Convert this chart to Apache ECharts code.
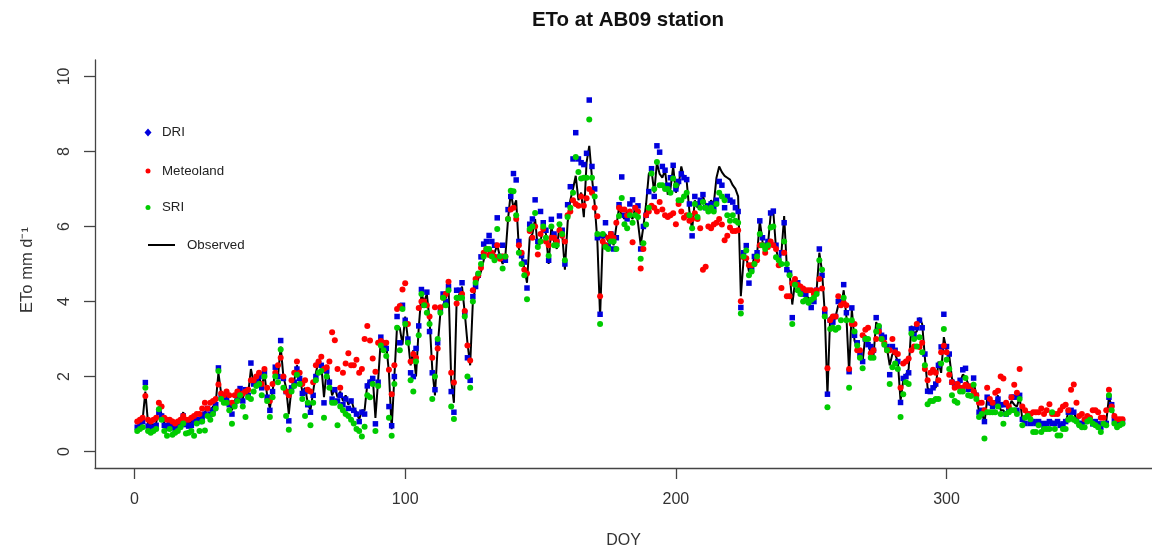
<!DOCTYPE html>
<html>
<head>
<meta charset="utf-8">
<title>ETo at AB09 station</title>
<script src="https://cdn.jsdelivr.net/npm/echarts@6/dist/echarts.min.js"></script>
<style>
html,body{margin:0;padding:0;background:#fff;overflow:hidden;}
#chart{width:1152px;height:554px;}
</style>
</head>
<body>
<div id="chart"></div>
<script>
// Day of year (x categories)
const doy = Array.from({length: 365}, (_, i) => i + 1);
const xTicks = [0, 100, 200, 300];
const yTicks = [0, 2, 4, 6, 8, 10];

// Observed ETo (black line)
const observed = [
0.75,0.8,0.85,1.6,0.75,0.7,0.72,0.75,1.2,1.0,
0.75,0.7,0.8,0.72,0.68,0.75,0.85,1.05,0.8,0.75,
0.8,0.85,0.9,0.85,1.0,1.05,1.2,1.1,1.2,1.3,
2.1,1.55,1.45,1.5,1.3,1.1,1.35,1.5,1.65,1.4,
1.7,1.55,2.2,1.85,1.9,2.0,1.75,2.05,1.5,1.15,
1.6,2.2,2.0,2.8,2.0,1.7,1.0,1.7,1.9,2.3,
2.0,1.6,1.7,1.3,1.1,1.6,2.1,2.4,2.3,1.45,
2.2,1.9,1.5,1.7,1.45,1.6,1.35,1.5,1.25,1.4,
1.15,1.05,0.85,1.1,1.1,1.8,1.9,2.0,0.9,1.9,
3.0,2.8,2.85,2.1,0.6,2.0,3.35,3.3,2.85,3.6,
3.0,2.3,2.7,2.0,3.3,4.2,4.0,4.2,3.5,2.2,
1.5,2.8,3.7,3.9,4.1,4.4,1.9,1.3,4.0,4.2,
4.4,3.7,2.9,2.3,4.0,4.4,4.6,4.8,5.1,5.4,
5.3,5.25,5.3,5.5,5.2,5.0,5.2,6.2,6.9,6.5,
6.7,5.4,5.2,4.9,4.5,5.7,5.8,6.2,5.4,5.6,
6.0,5.8,5.0,6.0,5.6,5.4,6.0,5.8,4.85,6.1,
6.7,7.0,7.35,6.7,6.9,6.25,7.7,8.15,7.3,6.6,
5.6,3.6,5.7,5.8,5.6,5.7,5.5,6.0,6.5,6.3,
6.2,6.4,6.3,6.2,6.5,6.1,5.5,6.0,6.6,7.4,
7.5,6.9,7.7,7.4,7.3,7.5,6.85,7.0,7.6,6.9,
7.1,7.6,7.3,7.2,6.4,5.9,6.7,6.5,6.6,6.8,
6.6,6.5,6.7,6.6,7.3,7.6,7.45,7.35,7.3,7.25,
7.1,7.0,6.8,4.14,5.1,5.2,4.8,4.9,5.2,5.25,
6.15,5.6,5.3,5.5,6.3,6.4,5.4,5.1,5.3,6.28,
4.9,4.8,3.92,4.5,4.4,4.3,4.2,4.15,4.1,4.0,
4.05,4.3,5.3,4.8,3.7,1.5,3.6,3.4,3.6,3.9,
3.85,4.3,3.6,2.1,3.8,2.95,2.8,2.6,2.4,3.1,
2.9,2.6,2.55,3.45,3.3,3.1,3.0,2.75,2.3,2.6,
2.6,2.4,1.35,1.9,2.05,2.2,3.35,3.15,3.2,3.57,
3.4,2.5,1.7,1.6,1.75,1.7,2.4,2.1,3.05,2.7,
2.55,1.95,1.8,1.75,1.85,2.05,2.0,1.8,1.7,1.85,
1.5,1.05,1.1,0.75,1.4,1.25,1.2,1.3,1.5,1.1,
1.1,1.0,1.15,1.35,1.25,1.2,1.45,0.85,0.9,1.0,
0.85,0.75,0.75,0.8,0.75,0.7,0.75,0.8,0.8,0.75,
0.8,0.7,0.75,0.78,1.05,1.1,1.05,0.85,0.75,0.78,
0.8,0.85,0.85,0.8,0.8,0.75,0.72,0.74,0.8,1.45,
1.2,0.9,0.8,0.8,0.78
];

// DRI estimates (blue squares)
const dri = [
0.65,0.7,0.8,1.84,0.68,0.62,0.65,0.7,1.05,0.95,
0.7,0.62,0.72,0.65,0.6,0.68,0.78,0.95,0.72,0.68,
0.7,0.78,0.85,0.8,0.9,1.0,1.15,1.0,1.1,1.25,
2.23,1.45,1.35,1.4,1.25,1.0,1.3,1.45,1.68,1.35,
1.65,1.5,2.36,1.8,1.9,2.0,1.7,2.1,1.45,1.1,
1.6,2.25,2.0,2.96,1.95,1.6,0.82,1.7,1.85,2.2,
1.95,1.55,1.6,1.25,1.05,1.5,2.0,2.35,2.3,1.3,
2.15,1.85,1.4,1.65,1.35,1.5,1.25,1.4,1.15,1.35,
1.1,1.0,0.8,1.05,1.0,1.75,1.85,1.95,0.74,1.85,
3.05,2.8,2.75,1.2,0.69,2.0,3.6,2.9,3.9,3.5,
3.0,2.1,2.0,2.75,3.35,4.32,3.9,4.25,3.2,2.1,
1.65,2.9,3.8,4.2,4.0,4.4,1.6,1.05,4.3,4.3,
4.5,3.7,2.5,1.9,4.13,4.4,4.7,5.19,5.53,5.6,
5.76,5.6,5.5,6.23,5.2,5.5,5.1,6.45,6.8,7.41,
7.24,5.6,5.22,5.05,4.36,6.06,6.2,6.71,5.6,6.4,
6.1,5.9,5.1,6.19,5.8,5.6,6.28,5.9,5.0,6.58,
7.06,7.8,8.5,7.8,7.7,7.65,7.95,9.37,7.6,7.0,
5.7,3.66,5.75,6.1,5.5,5.8,5.4,5.7,6.58,7.32,
6.3,6.2,6.6,6.71,6.5,6.55,5.4,6.0,6.3,6.93,
7.54,6.8,8.15,7.98,7.6,7.5,7.1,7.3,7.63,7.0,
7.2,7.4,7.3,7.25,6.6,5.75,6.8,6.6,6.7,6.85,
6.5,6.55,6.6,6.5,6.7,7.2,7.1,6.5,6.8,6.7,
6.65,6.5,6.4,3.84,5.3,5.49,4.49,4.9,5.2,5.3,
6.15,5.7,5.5,5.6,6.36,6.41,5.5,5.15,5.3,6.1,
4.85,4.76,3.57,4.5,4.5,4.3,4.2,4.2,4.0,3.84,
4.0,4.3,5.4,4.7,3.7,1.53,3.5,3.45,3.6,4.0,
4.0,4.45,3.7,2.13,3.83,3.1,2.9,2.6,2.4,3.0,
2.85,2.8,2.7,3.57,3.3,3.1,3.05,2.8,2.05,2.8,
2.7,2.4,1.31,1.95,2.0,2.1,3.27,3.1,3.3,3.5,
3.3,2.6,1.61,1.6,1.7,1.8,2.3,2.79,3.66,2.8,
2.6,1.85,1.8,1.75,1.9,2.18,2.22,1.66,1.7,1.96,
1.5,1.05,1.1,0.8,1.45,1.3,1.2,1.3,1.4,1.25,
1.25,1.0,1.1,1.45,1.45,1.1,1.5,0.86,0.75,1.0,
0.75,0.8,0.75,0.8,0.75,0.65,0.75,0.8,0.75,0.75,
0.8,0.7,0.74,0.8,1.05,1.1,1.05,0.85,0.75,0.75,
0.8,0.85,0.85,0.74,0.8,0.74,0.65,0.74,0.75,1.45,
1.25,0.85,0.8,0.8,0.8
];

// Meteoland estimates (red dots)
const meteoland = [
0.8,0.85,0.9,1.48,0.85,0.8,0.85,0.9,1.3,1.2,
0.9,0.85,0.85,0.8,0.75,0.8,0.85,0.95,0.85,0.85,
0.9,0.95,1.0,1.0,1.15,1.3,1.15,1.3,1.35,1.4,
1.79,1.55,1.5,1.6,1.5,1.3,1.5,1.6,1.5,1.55,
1.6,1.65,1.9,1.9,2.0,2.1,1.8,2.2,1.7,1.35,
1.8,2.1,2.3,2.5,2.0,1.6,1.5,1.9,2.1,2.4,
2.1,1.8,1.9,1.65,1.6,1.85,2.3,2.4,2.53,2.2,
2.25,2.4,3.18,2.97,2.2,1.7,2.1,2.35,2.62,2.3,
2.3,2.45,2.1,2.2,3.0,3.35,2.96,2.48,2.13,2.9,
2.95,2.9,2.9,2.18,1.53,2.3,3.8,3.88,4.32,4.49,
3.4,2.4,2.6,2.5,3.83,4.0,4.0,3.9,3.6,2.5,
3.85,2.75,3.85,4.1,4.2,4.53,2.1,1.84,3.95,4.1,
4.2,3.75,2.83,2.43,4.3,4.6,4.7,4.9,5.3,5.4,
5.24,5.3,5.2,5.5,5.14,5.2,5.2,6.2,6.45,6.5,
6.2,5.5,5.3,4.85,4.75,5.88,5.7,6.0,5.25,5.8,
5.93,5.6,5.5,5.7,5.7,5.6,5.9,5.75,5.6,6.3,
6.4,6.7,6.6,6.55,6.8,6.55,6.75,7.0,6.9,6.5,
6.27,4.14,5.6,5.5,5.7,5.8,5.7,6.1,6.5,6.45,
6.45,6.3,6.4,5.58,6.5,6.4,4.88,5.4,6.3,6.4,
6.55,6.5,6.4,6.65,6.45,6.3,6.25,6.3,6.35,6.06,
6.6,6.4,6.23,6.3,6.15,6.2,6.35,6.2,5.95,4.85,
4.93,6.0,5.95,6.05,6.1,6.2,6.05,5.63,5.75,5.97,
5.88,5.88,5.9,4.01,5.18,5.15,4.97,4.97,5.0,5.1,
5.5,5.5,5.3,5.45,5.6,5.5,5.4,4.97,4.36,5.3,
4.14,4.14,4.49,4.6,4.45,4.4,4.35,4.3,4.3,4.3,
4.2,4.3,4.6,4.35,3.8,2.22,3.5,3.6,3.6,4.14,
3.9,3.97,3.9,2.2,3.4,3.4,2.7,2.7,3.1,3.25,
3.3,2.62,2.7,3.0,3.2,3.0,2.9,2.7,2.7,3.0,
2.65,2.6,1.7,2.35,2.4,2.48,2.7,2.8,3.4,2.79,
2.9,2.2,1.9,2.1,2.18,2.1,1.9,2.65,2.82,2.65,
2.05,1.85,1.7,1.8,1.7,1.7,1.78,1.74,1.74,1.6,
1.5,1.3,1.3,1.1,1.7,1.4,1.3,1.57,1.62,2.0,
1.95,1.3,1.2,1.45,1.78,1.57,2.2,1.2,1.1,1.0,
1.0,1.05,1.05,1.05,1.15,1.0,1.1,1.26,1.0,1.0,
1.0,1.1,1.2,1.25,1.1,1.65,1.79,1.3,0.95,1.0,
0.86,0.95,0.9,1.1,1.1,1.05,0.9,0.9,1.1,1.65,
1.2,0.95,0.86,0.86,0.86
];

// SRI estimates (green dots)
const sri = [
0.55,0.6,0.65,1.7,0.55,0.5,0.55,0.6,1.13,0.85,
0.55,0.42,0.6,0.45,0.5,0.55,0.65,0.75,0.48,0.5,
0.55,0.42,0.75,0.55,0.8,0.56,0.95,0.85,1.0,1.15,
2.15,1.4,1.3,1.3,1.1,0.74,1.2,1.35,1.5,1.2,
0.92,1.45,1.4,1.6,1.75,1.8,1.5,2.0,1.35,0.92,
1.45,2.0,1.85,2.72,1.7,0.95,0.58,1.6,1.75,2.05,
1.8,1.4,0.95,1.3,0.7,1.3,1.9,2.1,2.15,0.9,
2.0,1.7,1.3,1.3,0.7,1.2,1.1,1.0,0.95,0.85,
0.75,0.6,0.55,0.4,0.66,1.5,1.45,1.8,0.55,1.75,
2.83,2.7,2.55,0.9,0.42,1.8,3.3,2.7,3.8,3.4,
2.9,1.9,1.6,2.4,3.1,4.2,3.9,3.7,3.4,1.4,
2.0,3.0,3.7,4.1,3.9,4.3,1.2,0.87,4.1,4.1,
4.1,3.6,2.0,1.7,4.0,4.5,4.75,5.0,5.2,5.4,
5.4,5.2,5.1,5.93,5.2,4.88,5.2,6.2,6.95,6.94,
6.3,5.3,5.0,4.7,4.06,5.93,6.0,6.36,5.45,5.6,
6.0,5.7,5.22,6.0,5.5,5.5,6.06,5.8,5.1,6.25,
6.5,6.9,7.85,7.45,7.28,7.3,7.3,8.85,7.3,6.8,
5.8,3.4,5.8,5.45,5.4,5.6,5.6,5.4,6.28,6.76,
6.06,5.95,6.3,6.1,6.3,6.25,5.14,5.55,6.05,6.5,
7.41,7.0,7.72,7.1,7.1,7.0,7.0,6.9,7.28,7.1,
6.7,6.7,6.8,6.9,6.3,5.95,6.6,6.25,6.5,6.65,
6.5,6.4,6.5,6.4,6.6,6.9,6.8,6.7,6.3,6.15,
6.3,6.15,6.1,3.68,5.2,5.36,4.7,4.8,5.0,5.2,
5.8,5.5,5.4,5.5,5.97,6.0,5.18,5.1,5.0,5.6,
5.0,4.7,3.4,4.45,4.3,4.2,4.0,4.05,3.97,4.05,
4.1,4.2,5.1,4.85,3.6,1.18,3.27,3.3,3.25,3.3,
3.5,4.1,3.5,1.7,3.5,3.2,2.83,2.5,2.22,3.0,
3.0,2.5,2.5,3.2,3.35,3.0,2.85,2.7,1.8,2.25,
2.35,2.2,0.92,1.53,1.85,1.8,3.15,3.0,2.8,3.05,
2.65,2.3,1.26,1.35,1.35,1.4,1.4,2.35,3.27,2.45,
2.2,1.5,1.35,1.3,1.6,1.6,1.96,1.5,1.48,1.78,
1.4,0.92,1.0,0.35,1.05,1.05,1.05,1.05,1.2,1.0,
0.74,1.0,1.05,1.1,1.1,1.0,1.4,0.7,0.9,0.95,
0.86,0.52,0.52,0.7,0.52,0.6,0.6,0.6,1.05,0.6,
0.43,0.43,0.6,0.6,0.85,0.9,0.85,0.8,0.7,0.65,
0.65,0.8,0.85,0.75,0.7,0.65,0.52,0.74,0.7,1.5,
1.1,0.75,0.65,0.7,0.74
];

const pair = (arr) => doy.map((d, i) => [d, arr[i]]);

const FONT = '"Liberation Sans", Arial, sans-serif';
const AXIS_COLOR = '#444';
const TEXT_COLOR = '#333';

const chart = echarts.init(document.getElementById('chart'), null, {renderer: 'canvas', width: 1152, height: 554});

function legendItem(name, icon, left, top, w, h, pad) {
  return {
    data: [{name: name, icon: icon}],
    orient: 'vertical',
    left: left, top: top,
    itemWidth: w, itemHeight: h,
    selectedMode: false,
    padding: 0,
    textStyle: {fontFamily: FONT, fontSize: 13.3, color: '#222', lineHeight: 14, padding: [0, 0, 0, pad]}
  };
}

chart.setOption({
  animation: false,
  backgroundColor: '#fff',
  textStyle: {fontFamily: FONT},
  graphic: [
    {
      type: 'text', x: 628, y: 20.5,
      style: {text: 'ETo at AB09 station', font: 'bold 20.5px ' + FONT, fill: '#111', textAlign: 'center', textVerticalAlign: 'middle'}
    },
    {
      type: 'text', x: 27, y: 270, rotation: Math.PI / 2,
      style: {text: 'ETo mm d\u207B\u00B9', font: '16.5px ' + FONT, fill: TEXT_COLOR, textAlign: 'center', textVerticalAlign: 'middle'}
    }
  ],
  legend: [
    legendItem('DRI', 'diamond', 144.5, 125.5, 7, 8, 5.5),
    legendItem('Meteoland', 'circle', 145.5, 164, 5, 5, 6.5),
    legendItem('SRI', 'circle', 145.5, 200.5, 5, 5, 6.5),
    legendItem('Observed', 'rect', 148, 238, 27, 2, 7)
  ],
  grid: {left: 95, right: 0, top: 60, bottom: 80.7, containLabel: false},
  xAxis: {
    type: 'value', min: -14.6, max: 375.9,
    name: 'DOY', nameLocation: 'middle', nameGap: 65,
    nameTextStyle: {fontFamily: FONT, fontSize: 16, color: TEXT_COLOR},
    axisLine: {show: true, onZero: false, lineStyle: {color: AXIS_COLOR, width: 1.3}},
    axisTick: {show: true, length: 11, inside: false, customValues: xTicks, lineStyle: {color: AXIS_COLOR, width: 1.3}},
    axisLabel: {customValues: xTicks, fontFamily: FONT, fontSize: 16, color: TEXT_COLOR, margin: 24},
    splitLine: {show: false}
  },
  yAxis: {
    type: 'value', min: -0.437, max: 10.437,
    axisLine: {show: true, onZero: false, lineStyle: {color: AXIS_COLOR, width: 1.3}},
    axisTick: {show: true, length: 11, inside: false, customValues: yTicks, lineStyle: {color: AXIS_COLOR, width: 1.3}},
    axisLabel: {customValues: yTicks, rotate: 90, fontFamily: FONT, fontSize: 16, color: TEXT_COLOR, margin: 22},
    splitLine: {show: false}
  },
  series: [
    {
      name: 'Observed', type: 'line', data: pair(observed),
      showSymbol: false, symbol: 'none', z: 1,
      lineStyle: {color: '#000', width: 2},
      itemStyle: {color: '#000'},
      silent: true
    },
    {
      name: 'DRI', type: 'scatter', data: pair(dri),
      symbol: 'rect', symbolSize: 5.5, z: 2,
      itemStyle: {color: '#0000dd', opacity: 1}, silent: true
    },
    {
      name: 'Meteoland', type: 'scatter', data: pair(meteoland),
      symbol: 'circle', symbolSize: 6, z: 3,
      itemStyle: {color: '#ff0000', opacity: 1}, silent: true
    },
    {
      name: 'SRI', type: 'scatter', data: pair(sri),
      symbol: 'circle', symbolSize: 6, z: 4,
      itemStyle: {color: '#00cc00', opacity: 1}, silent: true
    }
  ]
});
</script>
</body>
</html>
